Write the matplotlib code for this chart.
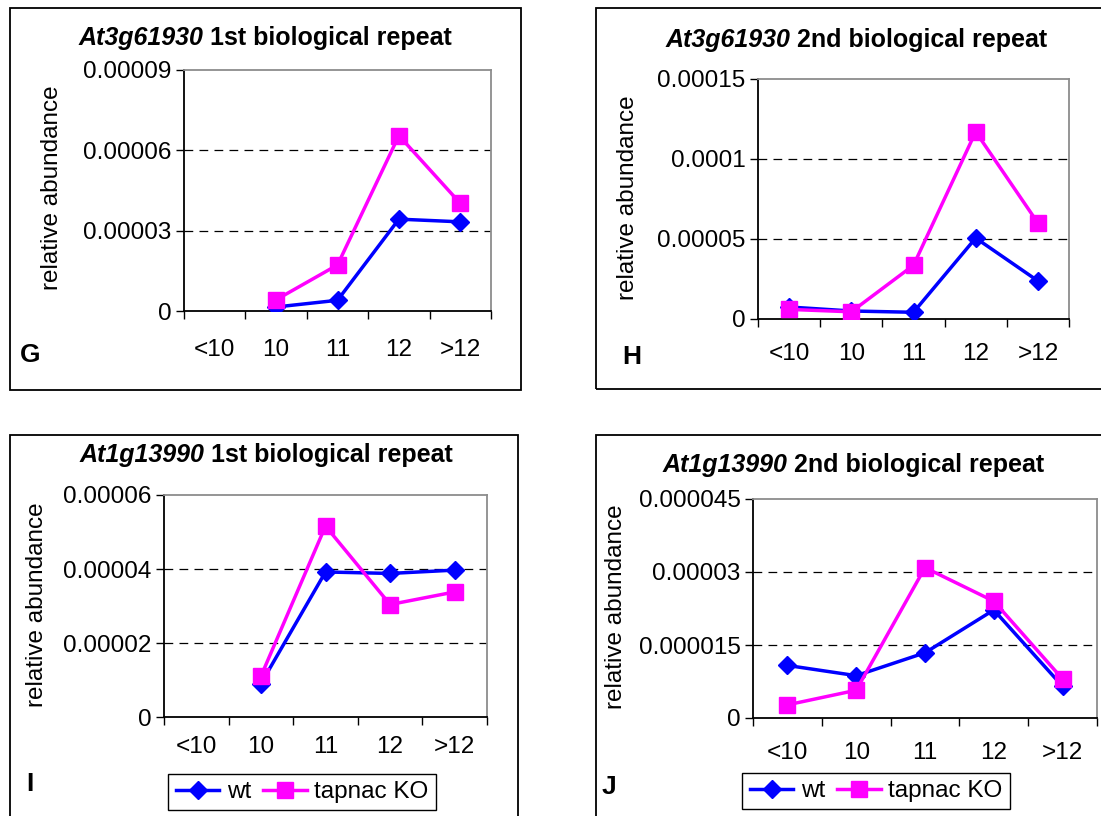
import numpy as np
import matplotlib
matplotlib.use('Agg')
import matplotlib.pyplot as plt
from matplotlib.patches import Rectangle

plt.rcParams['font.family'] = ['Liberation Sans', 'DejaVu Sans']

nan = np.nan
categories = ['<10', '10', '11', '12', '>12']

# At3g61930, repeat 1 and 2
g_wt = [nan, 0.0000015, 0.000004, 0.0000343, 0.0000333]
g_ko = [nan, 0.0000042, 0.0000172, 0.0000655, 0.0000402]
h_wt = [0.0000075, 0.000005, 0.0000042, 0.0000506, 0.0000238]
h_ko = [0.000006, 0.0000045, 0.0000336, 0.000117, 0.00006]

# At1g13990, repeat 1 and 2
i_wt = [nan, 0.000009, 0.0000392, 0.0000388, 0.0000397]
i_ko = [nan, 0.000011, 0.0000516, 0.0000304, 0.0000338]
j_wt = [0.0000108, 0.0000087, 0.0000134, 0.0000222, 0.0000065]
j_ko = [0.0000027, 0.0000057, 0.0000309, 0.000024, 0.000008]

g_ticks = [0, 0.00003, 0.00006, 0.00009]
g_labels = ['0', '0.00003', '0.00006', '0.00009']
h_ticks = [0, 0.00005, 0.0001, 0.00015]
h_labels = ['0', '0.00005', '0.0001', '0.00015']
i_ticks = [0, 0.00002, 0.00004, 0.00006]
i_labels = ['0', '0.00002', '0.00004', '0.00006']
j_ticks = [0, 0.000015, 0.00003, 0.000045]
j_labels = ['0', '0.000015', '0.00003', '0.000045']

genes = ['At3g61930', 'At3g61930', 'At1g13990', 'At1g13990']
repeats = ['1st biological repeat', '2nd biological repeat',
           '1st biological repeat', '2nd biological repeat']
letters = ['G', 'H', 'I', 'J']

W, H = 1101, 816
FS = 17.5
TFS = 18
fig = plt.figure(figsize=(W / 100, H / 100), dpi=100)


def fx(x):
    return x / W


def fy(y):
    return 1 - y / H


def panel(n, wt, ko, ticks, labels, axbox, frame, title_xy, ylab_x,
          letter_xy, xpad, legend_xy=None):
    l, t, r, b = axbox
    ax = fig.add_axes([fx(l), fy(b), (r - l) / W, (b - t) / H])

    # outer frame of the panel
    fl, ft, fr, fb = frame
    fig.patches.append(Rectangle((fx(fl), fy(fb)), (fr - fl) / W, (fb - ft) / H,
                                 transform=fig.transFigure, fill=False,
                                 edgecolor='black', linewidth=1.3))

    x = np.arange(len(categories))
    ax.plot(x, wt, color='#0000ff', marker='D', markersize=9.5, lw=2.5,
            label='wt', zorder=3)
    ax.plot(x, ko, color='#ff00ff', marker='s', markersize=11.5, lw=2.5,
            label='tapnac KO', zorder=4)

    ax.set_xlim(-0.5, len(categories) - 0.5)
    ax.set_ylim(ticks[0], ticks[-1])
    ax.set_xticks(x)
    ax.set_xticklabels(categories, fontsize=FS)
    ax.set_xticks(np.arange(len(categories) + 1) - 0.5, minor=True)
    ax.tick_params(axis='x', which='major', length=0, pad=xpad)
    ax.tick_params(axis='x', which='minor', length=6, width=1, direction='out')
    ax.set_yticks(ticks)
    ax.set_yticklabels(labels, fontsize=FS)
    ax.tick_params(axis='y', length=6, width=1, direction='out', pad=3)

    for v in ticks[1:-1]:
        ax.axhline(v, color='black', lw=0.9, ls=(0, (7, 5)), zorder=1)

    for s in ['top', 'right']:
        ax.spines[s].set_color('#8c8c8c')
        ax.spines[s].set_linewidth(1.3)
    for s in ['left', 'bottom']:
        ax.spines[s].set_color('black')
        ax.spines[s].set_linewidth(1.3)

    fig.text(fx(ylab_x[0]), fy(ylab_x[1]), 'relative abundance', fontsize=FS,
             rotation=90, ha='center', va='center')
    fig.text(fx(letter_xy[0]), fy(letter_xy[1]), letters[n], fontsize=19,
             fontweight='bold', ha='center', va='center')

    # title: italic gene name followed by plain bold text
    t1 = fig.text(0, 0, genes[n], fontsize=TFS, fontweight='bold',
                  style='italic', ha='left', va='center')
    t2 = fig.text(0, 0, repeats[n], fontsize=TFS, fontweight='bold',
                  ha='left', va='center')
    rend = fig.canvas.get_renderer()
    w1 = t1.get_window_extent(rend).width
    w2 = t2.get_window_extent(rend).width
    gap = 0.278 * TFS * 100 / 72
    x0 = title_xy[0] - (w1 + gap + w2) / 2
    t1.set_position((fx(x0), fy(title_xy[1])))
    t2.set_position((fx(x0 + w1 + gap), fy(title_xy[1])))

    if legend_xy is not None:
        leg = ax.legend(loc='center', bbox_to_anchor=(fx(legend_xy[0]), fy(legend_xy[1])),
                        bbox_transform=fig.transFigure, ncol=2, fontsize=FS,
                        frameon=True, fancybox=False, framealpha=1,
                        edgecolor='black', handlelength=1.8, handletextpad=0.3,
                        columnspacing=0.5, borderpad=0.3, borderaxespad=0)
        leg.get_frame().set_linewidth(1.0)
    return ax


panel(0, g_wt, g_ko, g_ticks, g_labels, (184, 70, 491, 311), (10, 8, 521, 390),
      (265, 38), (52, 188), (30, 355), 20)
panel(1, h_wt, h_ko, h_ticks, h_labels, (758, 79, 1069, 319), (596, 8, 1110, 389),
      (856, 40), (628, 198), (632, 357), 17)
panel(2, i_wt, i_ko, i_ticks, i_labels, (164, 495, 487, 717), (10, 435, 518, 830),
      (266, 455), (37, 605), (30, 784), 14, legend_xy=(302, 792))
panel(3, j_wt, j_ko, j_ticks, j_labels, (753, 499, 1097, 718), (596, 435, 1110, 830),
      (853, 465), (616, 607), (609, 787), 17, legend_xy=(876, 791))

fig.savefig('out.png', dpi=100)
